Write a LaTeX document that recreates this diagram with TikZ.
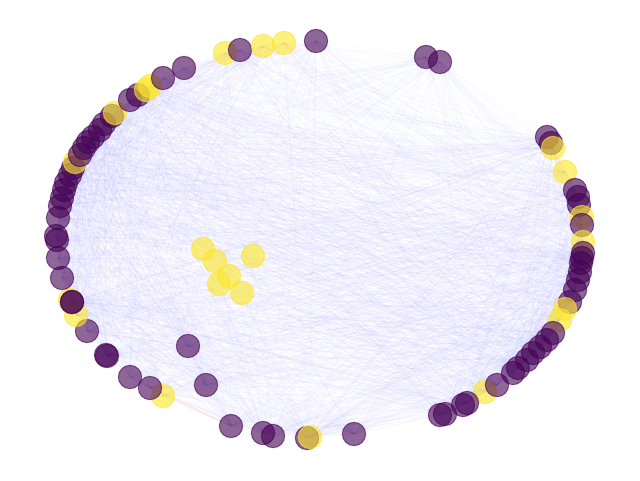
\documentclass[tikz,border=0pt]{standalone}
\definecolor{vpurple}{HTML}{440154}
\definecolor{vyellow}{HTML}{FDE725}
\definecolor{edgeblue}{RGB}{70,70,255}
\definecolor{edgered}{RGB}{235,60,60}
\pgfdeclarelayer{edgelayer}
\pgfsetlayers{edgelayer,main}
\tikzset{
  nd/.style={circle, inner sep=0pt, minimum size=17.5pt, line width=0.75pt, opacity=0.6},
  pn/.style={nd, fill=vpurple, draw=vpurple},
  yn/.style={nd, fill=vyellow, draw=vyellow},
  ed/.style={draw=edgeblue, line width=0.6pt, draw opacity=0.026},
  edr/.style={draw=edgered, line width=0.6pt, draw opacity=0.1}
}
\begin{document}
\begin{tikzpicture}[x=0.75pt,y=-0.75pt]
\useasboundingbox (0,0) rectangle (640,480);
\foreach \x/\y/\c [count=\k] in {
225/53/yn, 240/50/pn, 263/46/yn, 284/43/yn, 316/41/pn, 426/57/pn, 440/62/pn,
547/137/pn, 551/143/pn, 553/148/yn, 565/172/yn, 575/190/pn, 578/197/pn, 579/205/pn,
582/217/yn, 582/225/pn, 583/242/yn, 583/253/pn, 582/258/pn, 581/263/pn, 580/272/pn,
578/280/pn, 575/290/pn, 570/302/pn, 565/309/yn, 560/320/yn, 553/333/pn, 547/340/pn,
540/347/pn, 533/353/pn, 527/360/pn, 518/368/pn, 513/373/pn, 485/392/yn, 497/385/pn,
467/403/pn, 463/405/pn, 445/414/pn, 440/415/pn, 354/434/pn, 307/438/pn, 310/437/yn,
273/436/pn, 263/433/pn, 231/426/pn, 206/385/pn, 188/346/pn, 163/396/yn, 150/388/pn,
130/377/pn, 107/356/pn, 106/355/pn, 87/331/pn, 70/300/yn, 76/315/yn, 72/302/pn,
72/302/pn, 62/278/pn, 58/258/pn, 57/240/pn, 56/236/pn, 58/218/pn, 60/206/pn,
62/198/pn, 64/190/pn, 66/183/pn, 70/175/pn, 73/168/pn, 75/162/yn, 80/155/pn,
84/148/pn, 88/142/pn, 93/137/pn, 100/130/pn, 104/124/pn, 112/116/pn, 115/113/yn,
130/100/pn, 138/95/pn, 146/90/yn, 150/86/yn, 163/78/pn, 184/68/pn,
203/249/yn, 215/261/yn, 229/276/yn, 219/284/yn, 242/293/yn, 253/256/yn}
  \node[\c] (n\k) at (\x,\y) {};
\begin{pgfonlayer}{edgelayer}
\fill[white] (0,0) rectangle (640,480);
\pgfmathsetseed{11}
\foreach \i in {1,...,82} {
  \pgfmathtruncatemacro\s{\i+1}
  \foreach \j in {\s,...,83} {
    \pgfmathrandominteger{\rr}{1}{100}
    \ifnum\rr<46\relax \draw[ed] (n\i.center) -- (n\j.center); \fi
  }
}
\draw[edr] (n48.center) -- (n45.center);
\draw[edr] (n49.center) -- (n44.center);
\draw[edr] (n50.center) -- (n45.center);
\draw[edr] (n53.center) -- (n47.center);
\end{pgfonlayer}
\end{tikzpicture}
\end{document}
